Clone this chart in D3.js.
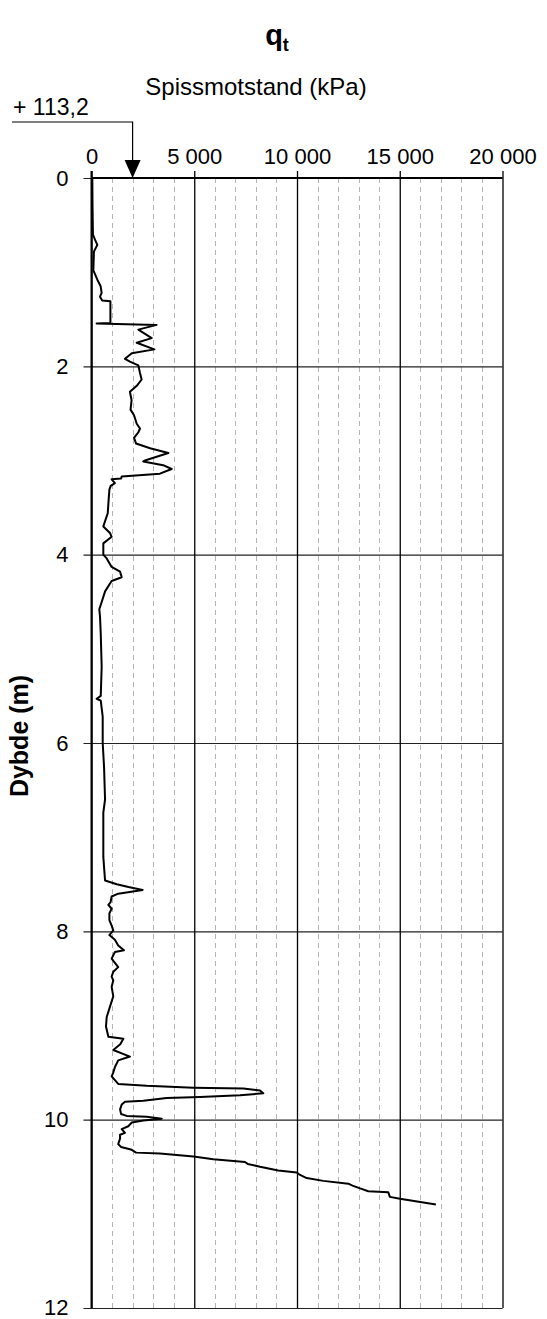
<!DOCTYPE html>
<html>
<head>
<meta charset="utf-8">
<script src="https://cdn.jsdelivr.net/npm/d3@7"></script>
<style>
  html, body { margin: 0; padding: 0; background: #fff; }
  svg { display: block; font-family: "Liberation Sans", Arial, sans-serif; }
</style>
</head>
<body>
<svg id="chart" width="547" height="1319"></svg>
<script>
// CPT sounding: corrected cone resistance qt (kPa) against depth (m)
const depth = [
  0.00, 0.30, 0.60, 0.66, 0.71, 0.78, 0.98, 1.08, 1.15, 1.22, 1.26, 1.30, 1.31, 1.54, 1.545, 1.56,
  1.61, 1.70, 1.75, 1.82, 1.86, 1.92, 1.95, 1.99, 2.07, 2.14, 2.20, 2.27, 2.36, 2.46, 2.52, 2.61,
  2.66, 2.70, 2.76, 2.82, 2.87, 2.92, 3.00, 3.01, 3.05, 3.09, 3.14, 3.17, 3.19, 3.20, 3.24, 3.27,
  3.31, 3.46, 3.56, 3.70, 3.77, 3.81, 3.88, 4.00, 4.04, 4.13, 4.18, 4.24, 4.28, 4.39, 4.50, 4.58,
  4.66, 4.84, 5.19, 5.50, 5.53, 5.55, 5.72, 6.00, 6.25, 6.60, 6.74, 6.96, 7.21, 7.46, 7.50, 7.53,
  7.56, 7.60, 7.63, 7.69, 7.72, 7.76, 7.81, 7.88, 7.94, 7.99, 8.04, 8.09, 8.15, 8.20, 8.22, 8.29,
  8.38, 8.43, 8.48, 8.52, 8.59, 8.69, 8.80, 8.91, 9.01, 9.12, 9.14, 9.20, 9.26, 9.33, 9.37, 9.44,
  9.50, 9.54, 9.58, 9.62, 9.64, 9.66, 9.67, 9.69, 9.72, 9.74, 9.76, 9.77, 9.80, 9.81, 9.84, 9.89,
  9.94, 9.96, 9.97, 9.99, 10.01, 10.03, 10.07, 10.10, 10.14, 10.16, 10.20, 10.26, 10.29, 10.32, 10.35, 10.36,
  10.39, 10.42, 10.45, 10.47, 10.50, 10.54, 10.56, 10.58, 10.62, 10.65, 10.68, 10.70, 10.73, 10.76, 10.77, 10.82,
  10.84, 10.90
];
const qt = [
  40, 50, 70, 180, 285, 120, 90, 285, 445, 495, 415, 520, 920, 920, 250, 3170,
  2280, 2930, 2200, 3060, 1960, 1630, 1870, 2280, 2360, 2440, 2230, 1870, 1950, 1900, 2070, 2200,
  2360, 2280, 2070, 2170, 2850, 3740, 2600, 2520, 3490, 3900, 3330, 1470, 1440, 980, 1140, 935,
  870, 820, 790, 575, 900, 980, 575, 575, 740, 980, 1390, 1470, 980, 660, 500, 380,
  415, 450, 495, 450, 250, 450, 545, 545, 610, 660, 575, 575, 575, 660, 1230, 1800,
  2490, 1300, 980, 930, 820, 980, 870, 870, 980, 1060, 870, 1140, 1300, 1580, 1140, 980,
  1300, 1060, 980, 1060, 980, 1060, 900, 740, 705, 820, 1550, 1400, 1060, 1870, 1300, 1140,
  1060, 980, 1140, 1300, 2690, 4960, 7390, 8200, 8360, 7230, 5280, 3660, 2520, 1630, 1470, 1390,
  1440, 1710, 2690, 3420, 2520, 1960, 1790, 1470, 1630, 1390, 1390, 1300, 1440, 1960, 2170, 3330,
  4960, 5930, 7470, 7600, 8200, 9090, 9990, 10100, 10470, 11280, 12500, 12700, 13070, 13470, 14440, 14520,
  15010, 16760
];

const xMajorTicks = [0, 5000, 10000, 15000, 20000];
const xMinorTicks = [1000, 2000, 3000, 4000, 6000, 7000, 8000, 9000, 11000, 12000, 13000, 14000, 16000, 17000, 18000, 19000];
const yTicks = [0, 2, 4, 6, 8, 10, 12];
const elevationLabel = "+ 113,2";
const elevationMarkerQ = 2000;

const svg = d3.select("#chart");
const x = d3.scaleLinear().domain([0, 20000]).range([91.5, 502.5]);
const y = d3.scaleLinear().domain([0, 12]).range([178, 1308]);

// thousands separated by a space: "5 000"
const nbLocale = d3.formatLocale({ decimal: ",", thousands: " ", grouping: [3], currency: ["", " kr"] });
const fmtX = nbLocale.format(",d");

// minor dashed verticals
svg.append("g")
  .selectAll("line")
  .data(xMinorTicks)
  .join("line")
  .attr("x1", d => Math.round(x(d)) + 0.5)
  .attr("x2", d => Math.round(x(d)) + 0.5)
  .attr("y1", y(0))
  .attr("y2", y(12))
  .attr("stroke", "#b4b4b4")
  .attr("stroke-width", 1)
  .attr("stroke-dasharray", "5,4");

// horizontal depth grid (extends left as ticks)
const yAxis = d3.axisLeft(y).tickValues(yTicks).tickSize(-(x(20000) - x(0))).tickSizeOuter(0);
const gy = svg.append("g").attr("transform", `translate(${x(0)},0)`).call(yAxis);
gy.select(".domain").remove();
gy.selectAll(".tick line")
  .attr("x1", -8)
  .attr("stroke", "#222")
  .attr("stroke-width", 1.2);
gy.selectAll(".tick text")
  .attr("x", -23)
  .attr("dy", "0.33em")
  .attr("font-size", 22)
  .attr("font-family", "Liberation Sans, Arial, sans-serif")
  .attr("fill", "#000");
gy.selectAll(".tick").filter(d => d === 12).select("text").attr("dy", "0.28em");

// major verticals with top ticks
const xAxis = d3.axisTop(x).tickValues(xMajorTicks).tickSize(-(y(12) - y(0))).tickSizeOuter(0).tickFormat(fmtX).tickPadding(14);
const gx = svg.append("g").attr("transform", `translate(0,${y(0)})`).call(xAxis);
gx.select(".domain").remove();
gx.selectAll(".tick line")
  .attr("y1", -7)
  .attr("stroke", "#000")
  .attr("stroke-width", 1.3);
gx.selectAll(".tick text")
  .attr("font-size", 22)
  .attr("font-family", "Liberation Sans, Arial, sans-serif")
  .attr("fill", "#000");

// frame edges: top and left axis lines
svg.append("line")
  .attr("x1", x(0)).attr("x2", x(20000))
  .attr("y1", y(0)).attr("y2", y(0))
  .attr("stroke", "#000").attr("stroke-width", 2);
svg.append("line")
  .attr("x1", x(0)).attr("x2", x(0))
  .attr("y1", y(0) - 7).attr("y2", y(12))
  .attr("stroke", "#000").attr("stroke-width", 2);

// qt profile
const pts = depth.map((d, i) => [qt[i], d]);
svg.append("path")
  .datum(pts)
  .attr("fill", "none")
  .attr("stroke", "#000")
  .attr("stroke-width", 2)
  .attr("stroke-linejoin", "round")
  .attr("d", d3.line().x(d => x(d[0])).y(d => y(d[1])));

// elevation marker
const mx = x(elevationMarkerQ);
svg.append("path")
  .attr("d", `M12,122 H${mx} V160`)
  .attr("fill", "none")
  .attr("stroke", "#000")
  .attr("stroke-width", 1.2);
svg.append("path")
  .attr("d", `M${mx - 8},160 L${mx + 8},160 L${mx},${y(0)} Z`)
  .attr("fill", "#000");
svg.append("text")
  .attr("x", 13).attr("y", 115)
  .attr("font-size", 23)
  .text(elevationLabel);

// titles
const title = svg.append("text")
  .attr("x", 277).attr("y", 45)
  .attr("text-anchor", "middle")
  .attr("font-weight", "bold")
  .attr("font-size", 29);
title.append("tspan").text("q");
title.append("tspan").attr("font-size", 18).attr("dy", 6).text("t");

svg.append("text")
  .attr("x", 256).attr("y", 95)
  .attr("text-anchor", "middle")
  .attr("font-size", 24)
  .text("Spissmotstand (kPa)");

svg.append("text")
  .attr("transform", "translate(28,736) rotate(-90)")
  .attr("text-anchor", "middle")
  .attr("font-weight", "bold")
  .attr("font-size", 25)
  .text("Dybde (m)");
</script>
</body>
</html>
